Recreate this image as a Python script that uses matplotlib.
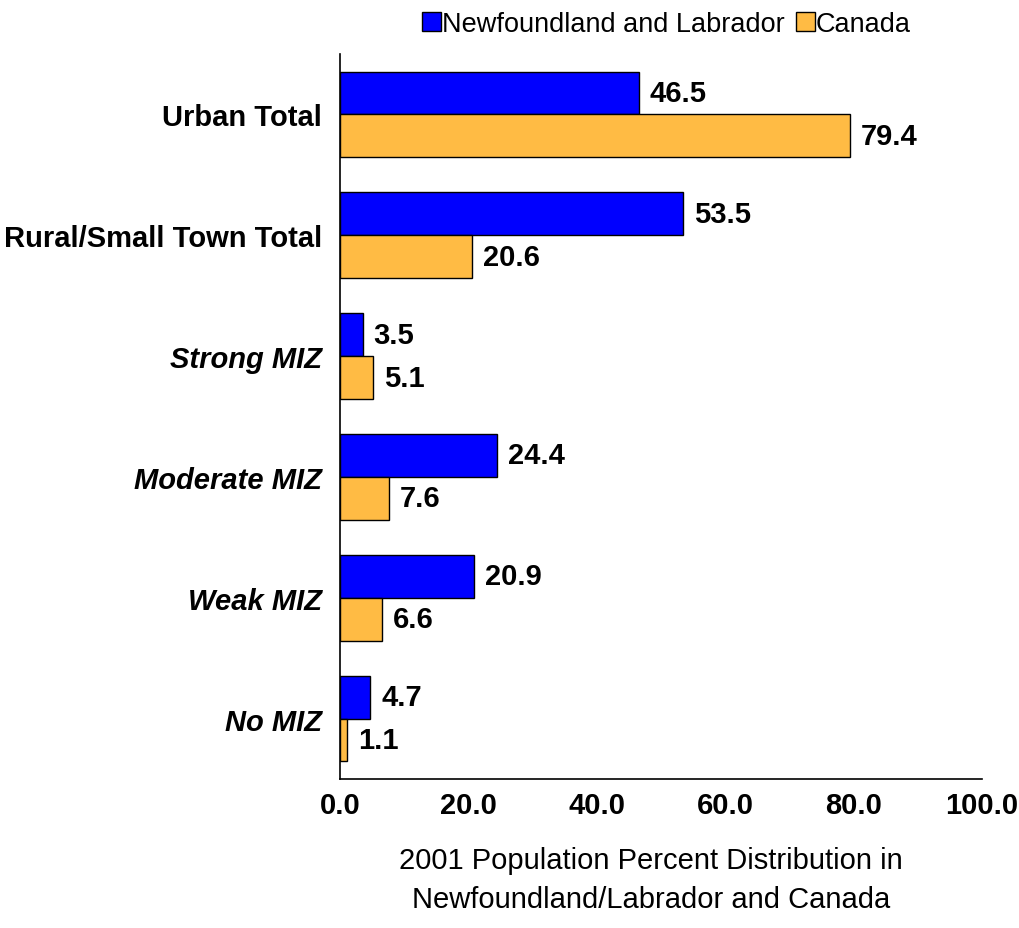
import numpy as np
import matplotlib.pyplot as plt

plt.rcParams['font.family'] = ['Liberation Sans', 'DejaVu Sans']

categories = ['Urban Total', 'Rural/Small Town Total', 'Strong MIZ',
              'Moderate MIZ', 'Weak MIZ', 'No MIZ']
italic = [False, False, True, True, True, True]
nl = [46.5, 53.5, 3.5, 24.4, 20.9, 4.7]
canada = [79.4, 20.6, 5.1, 7.6, 6.6, 1.1]
xticks = [0, 20, 40, 60, 80, 100]

fig = plt.figure(figsize=(10.19, 9.29), dpi=100)
ax = fig.add_axes([0.3337, 0.1604, 0.63, 0.7804])

y = np.arange(len(categories))
h = 0.355
b1 = ax.barh(y - h/2, nl, height=h, color='#0000FF', edgecolor='black', linewidth=1,
             label='Newfoundland and Labrador')
b2 = ax.barh(y + h/2, canada, height=h, color='#FFBB44', edgecolor='black', linewidth=1,
             label='Canada')

for bars, vals in [(b1, nl), (b2, canada)]:
    for bar, v in zip(bars, vals):
        ax.text(v + 1.7, bar.get_y() + bar.get_height()/2, f'{v:.1f}',
                va='center', ha='left', fontsize=21, fontweight='bold')

ax.set_ylim(len(categories) - 0.5, -0.5)
ax.set_xlim(0, 100)
ax.set_yticks(y)
ax.set_yticklabels(categories)
for lab, it in zip(ax.get_yticklabels(), italic):
    lab.set_fontweight('bold')
    lab.set_fontsize(21)
    if it:
        lab.set_fontstyle('italic')
ax.set_xticks(xticks)
ax.set_xticklabels([f'{t:.1f}' for t in xticks], fontsize=21, fontweight='bold')
ax.tick_params(length=0)
ax.tick_params(axis='x', pad=9)
ax.tick_params(axis='y', pad=13)
for s in ['top', 'right']:
    ax.spines[s].set_visible(False)
ax.spines['left'].set_linewidth(1.2)
ax.spines['bottom'].set_linewidth(1.2)

ax.set_xlabel('2001 Population Percent Distribution in\nNewfoundland/Labrador and Canada',
              fontsize=21, linespacing=1.5)
ax.xaxis.set_label_coords(0.484, -0.092)
ax.xaxis.label.set_va('top')

fig.legend(handles=[b1, b2], loc='center', bbox_to_anchor=(0.654, 0.973), ncol=2,
           frameon=False, fontsize=19.5, handlelength=0.7, handleheight=0.7,
           handletextpad=0.05, columnspacing=0.4)

fig.savefig('out.png', dpi=100)
